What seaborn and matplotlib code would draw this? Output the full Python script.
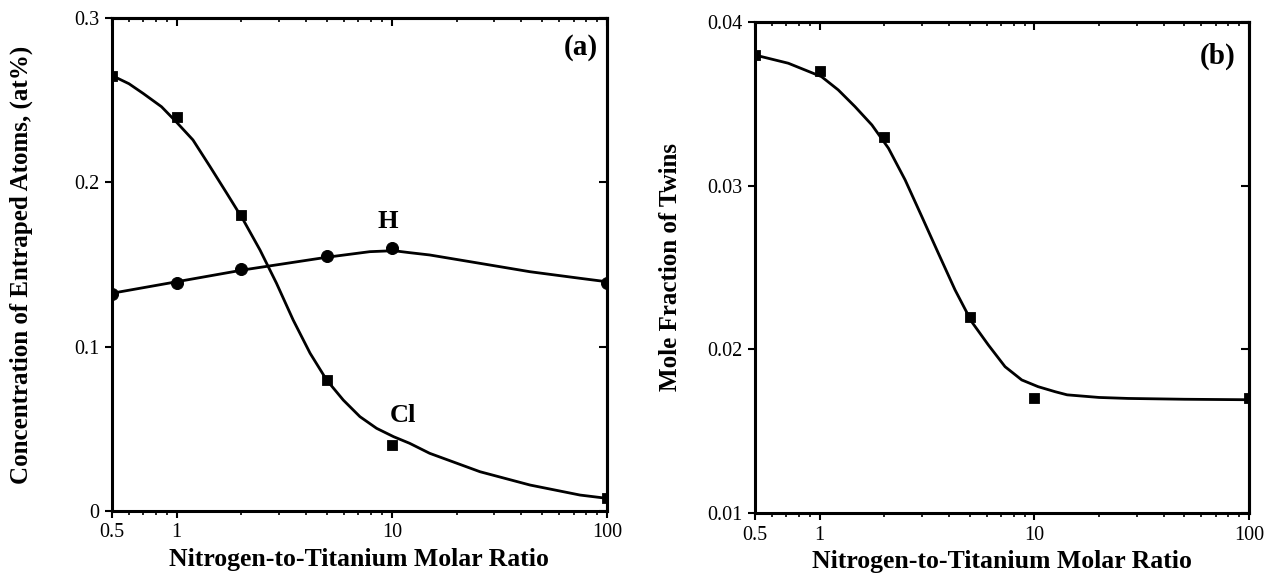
import numpy as np
import seaborn as sns
import matplotlib
matplotlib.use("Agg")
import matplotlib.pyplot as plt
from matplotlib.ticker import FixedLocator, LogLocator, NullFormatter, FixedFormatter

sns.set_style("ticks")
plt.rcParams['font.family'] = ['Liberation Serif', 'DejaVu Serif']
for key in ["text.color", "axes.labelcolor", "xtick.color", "ytick.color", "axes.edgecolor"]:
    plt.rcParams[key] = "black"

# measured points
ratio = [0.5, 1, 2, 5, 10, 100]
cl_conc = [0.265, 0.240, 0.180, 0.080, 0.040, 0.008]
h_conc = [0.132, 0.139, 0.147, 0.155, 0.160, 0.139]
twins = [0.0380, 0.0370, 0.0330, 0.0220, 0.0170, 0.0170]

# fitted curves
cl_curve_x = [0.5, 0.6, 0.70, 0.85, 1.0, 1.19, 1.43, 1.71, 2.04, 2.44, 2.91, 3.48, 4.17, 4.98,
              5.95, 7.11, 8.5, 10.2, 12.1, 15.0, 25.7, 43.9, 75, 100]
cl_curve_y = [0.2650, 0.2600, 0.2540, 0.2460, 0.2365, 0.2258, 0.2095, 0.1933, 0.1771, 0.1588,
              0.1386, 0.1162, 0.0960, 0.0797, 0.0675, 0.0574, 0.0503, 0.0452, 0.0412, 0.0351,
              0.0239, 0.0158, 0.0097, 0.0077]
h_curve_x = [0.5, 1.0, 2.04, 4.98, 7.9, 10.2, 12.1, 15.0, 25.7, 43.9, 75, 100]
h_curve_y = [0.1325, 0.1395, 0.1467, 0.1544, 0.1578, 0.1584, 0.1572, 0.1558, 0.1507, 0.1456,
             0.1416, 0.1395]
tw_curve_x = [0.5, 0.714, 1.02, 1.22, 1.46, 1.75, 2.09, 2.5, 2.99, 3.57, 4.27, 5.1, 6.1, 7.3,
              8.73, 10.4, 12.5, 14.2, 20, 27.3, 50, 100]
tw_curve_y = [0.03798, 0.03748, 0.03666, 0.03585, 0.03483, 0.03371, 0.03229, 0.03035, 0.02811,
              0.02587, 0.02363, 0.02169, 0.02027, 0.01894, 0.01813, 0.01772, 0.01741, 0.01722,
              0.01706, 0.01700, 0.01695, 0.01692]

xticks = [0.5, 1, 10, 100]
xticklabels = ["0.5", "1", "10", "100"]

fig = plt.figure(figsize=(12.75, 5.77), dpi=100)
ax1 = fig.add_axes([0.0878, 0.1144, 0.3882, 0.8544])
ax2 = fig.add_axes([0.5922, 0.1109, 0.3875, 0.851])

lw = 2.0
sns.lineplot(x=cl_curve_x, y=cl_curve_y, ax=ax1, color="black", lw=lw, sort=False)
sns.lineplot(x=h_curve_x, y=h_curve_y, ax=ax1, color="black", lw=lw, sort=False)
sns.scatterplot(x=ratio, y=cl_conc, ax=ax1, marker="s", s=55, color="black", edgecolor="black", zorder=5)
sns.scatterplot(x=ratio, y=h_conc, ax=ax1, marker="o", s=75, color="black", edgecolor="black", zorder=5)

sns.lineplot(x=tw_curve_x, y=tw_curve_y, ax=ax2, color="black", lw=lw, sort=False)
sns.scatterplot(x=ratio, y=twins, ax=ax2, marker="s", s=55, color="black", edgecolor="black", zorder=5)


def style(ax, ylim, yticks, yticklabels, ylabel, ylab_x, tag, tagpos):
    ax.set_xscale("log")
    ax.set_xlim(0.5, 100)
    ax.set_ylim(*ylim)
    ax.xaxis.set_major_locator(FixedLocator(xticks))
    ax.xaxis.set_major_formatter(FixedFormatter(xticklabels))
    ax.xaxis.set_minor_locator(LogLocator(base=10, subs=np.arange(2, 10)))
    ax.xaxis.set_minor_formatter(NullFormatter())
    ax.set_yticks(yticks)
    ax.set_yticklabels(yticklabels)
    ax.yaxis.set_minor_locator(FixedLocator([]))
    for sp in ax.spines.values():
        sp.set_visible(True)
        sp.set_linewidth(2.2)
    ax.tick_params(axis="both", which="major", direction="out", length=5, width=1.5,
                   labelsize=14.5, pad=4)
    ax.tick_params(axis="x", which="minor", direction="out", length=3, width=1.2)
    # top and right ticks point inward
    top = ax.secondary_xaxis("top")
    top.set_xscale("log")
    top.xaxis.set_major_locator(FixedLocator(xticks))
    top.xaxis.set_minor_locator(LogLocator(base=10, subs=np.arange(2, 10)))
    top.tick_params(which="major", direction="in", length=6, width=1.5, labeltop=False)
    top.tick_params(which="minor", direction="in", length=3, width=1.2)
    top.spines["top"].set_linewidth(2.2)
    right = ax.secondary_yaxis("right")
    right.set_yticks(yticks)
    right.tick_params(direction="in", length=6, width=1.5, labelright=False)
    right.spines["right"].set_linewidth(2.2)
    ax.set_xlabel("Nitrogen-to-Titanium Molar Ratio", fontsize=18.5, fontweight="bold", labelpad=4)
    ax.set_ylabel(ylabel, fontsize=18, fontweight="bold")
    ax.yaxis.set_label_coords(ylab_x, 0.5)
    ax.text(tagpos[0], tagpos[1], tag, fontsize=21, fontweight="bold", ha="center", va="center")


style(ax1, (0, 0.3), [0, 0.1, 0.2, 0.3], ["0", "0.1", "0.2", "0.3"],
      "Concentration of Entraped Atoms, (at%)", -0.16, "(a)", (76, 0.282))
style(ax2, (0.01, 0.04), [0.01, 0.02, 0.03, 0.04], ["0.01", "0.02", "0.03", "0.04"],
      "Mole Fraction of Twins", -0.148, "(b)", (71, 0.0379))

ax1.text(9.6, 0.176, "H", fontsize=19, fontweight="bold", ha="center", va="center")
ax1.text(11.3, 0.0584, "Cl", fontsize=19, fontweight="bold", ha="center", va="center")

fig.savefig("out.png", dpi=100)
